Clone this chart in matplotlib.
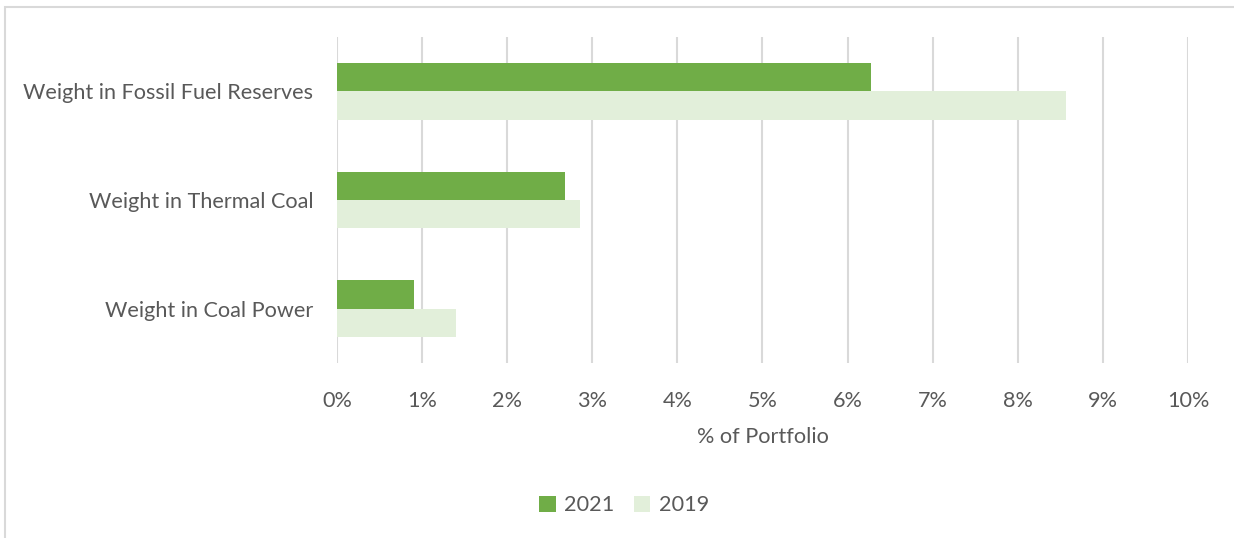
import numpy as np
import matplotlib.pyplot as plt
from matplotlib.patches import Rectangle

# data (% of portfolio)
categories = ['Weight in Fossil Fuel Reserves', 'Weight in Thermal Coal', 'Weight in Coal Power']
values_2021 = [6.27, 2.68, 0.90]
values_2019 = [8.57, 2.86, 1.40]
ticks = list(range(0, 11))

plt.rcParams['font.family'] = ['Lato', 'DejaVu Sans']
text_col = '#595959'
fs = 15.6

fig = plt.figure(figsize=(12.34, 5.38), dpi=100)
ax = fig.add_axes([0.2731, 0.3253, 0.6896, 0.6059])

y = np.arange(len(categories))
h = 0.26
ax.barh(y - h/2, values_2021, height=h, color='#70AD47', label='2021', zorder=3)
ax.barh(y + h/2, values_2019, height=h, color='#E2EFDA', label='2019', zorder=3)

ax.set_xlim(0, 10)
ax.set_ylim(2.5, -0.5)
ax.set_xticks(ticks)
ax.set_xticklabels([f'{t}%' for t in ticks])
ax.set_yticks(y)
ax.set_yticklabels(categories)
ax.tick_params(axis='both', length=0, colors=text_col, labelsize=fs)
ax.tick_params(axis='x', pad=20)
ax.tick_params(axis='y', pad=17)
ax.grid(axis='x', color='#D9D9D9', linewidth=1.5, zorder=0)
for s in ax.spines.values():
    s.set_visible(False)
ax.set_xlabel('% of Portfolio', fontsize=fs, color=text_col, labelpad=12)

fig.legend(loc='center', bbox_to_anchor=(0.506, 0.061), ncol=2, frameon=False,
           fontsize=fs, labelcolor=text_col, handlelength=0.75, handleheight=0.75,
           handletextpad=0.4, columnspacing=0.9)

# chart border (left and top edges visible)
fig.patches.append(Rectangle((5/1234, -0.1), 1.2, 1 - 7/538 + 0.1, transform=fig.transFigure,
                             fill=False, edgecolor='#D9D9D9', linewidth=1.5))

fig.savefig('out.png', dpi=100)
